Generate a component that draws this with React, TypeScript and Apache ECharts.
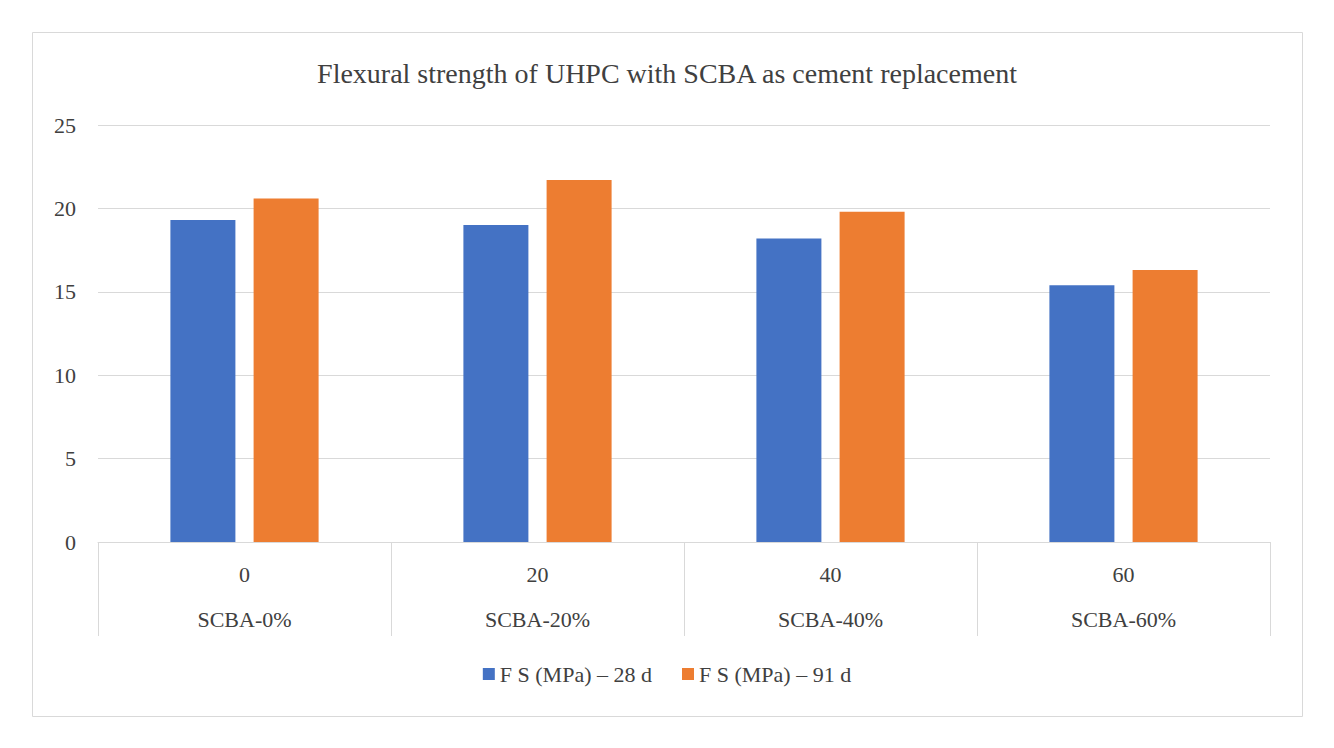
import React, { useEffect, useRef } from "react";
import * as echarts from "echarts";

const levels = ["0", "20", "40", "60"];
const groups = ["SCBA-0%", "SCBA-20%", "SCBA-40%", "SCBA-60%"];
const fs28 = [19.3, 19.0, 18.2, 15.4];
const fs91 = [20.6, 21.7, 19.8, 16.3];
const seriesNames = ["F S (MPa) – 28 d", "F S (MPa) – 91 d"];

const font = "Liberation Serif, Times New Roman, serif";

const App: React.FC = () => {
  const chartRef = useRef<HTMLDivElement | null>(null);

  useEffect(() => {
    document.body.style.margin = "0";
    if (!chartRef.current) return;
    const chart = echarts.init(chartRef.current, undefined, { renderer: "svg" });
    chart.setOption({
      animation: false,
      backgroundColor: "#fff",
      textStyle: { fontFamily: font },
      graphic: [
        {
          type: "rect",
          shape: { x: 32.5, y: 32.5, width: 1270, height: 684 },
          style: { fill: "none", stroke: "#d9d9d9", lineWidth: 1 },
        },
      ],
      title: {
        text: "Flexural strength of UHPC with SCBA as cement replacement",
        left: "center",
        top: 54,
        textStyle: { fontFamily: font, fontSize: 28, fontWeight: "normal", color: "#404040" },
      },
      legend: {
        bottom: 58,
        left: "center",
        itemWidth: 12,
        itemHeight: 12,
        itemGap: 30,
        icon: "rect",
        textStyle: { fontFamily: font, fontSize: 22, color: "#404040" },
        data: seriesNames,
      },
      grid: { left: 98, right: 64, top: 125, bottom: 206 },
      xAxis: {
        type: "category",
        data: levels.map((l, i) => l + "\n" + groups[i]),
        axisLine: { lineStyle: { color: "#d9d9d9" } },
        axisTick: { show: true, length: 94, lineStyle: { color: "#d9d9d9" } },
        axisLabel: { fontFamily: font, fontSize: 22, color: "#404040", lineHeight: 45, margin: 10 },
      },
      yAxis: {
        type: "value",
        min: 0,
        max: 25,
        interval: 5,
        axisLine: { show: false },
        axisTick: { show: false },
        splitLine: { lineStyle: { color: "#d9d9d9" } },
        axisLabel: { fontFamily: font, fontSize: 22, color: "#404040", margin: 22 },
      },
      series: [
        { name: seriesNames[0], type: "bar", data: fs28, barWidth: 65, barGap: "28%", itemStyle: { color: "#4472C4" } },
        { name: seriesNames[1], type: "bar", data: fs91, barWidth: 65, itemStyle: { color: "#ED7D31" } },
      ],
    });
    return () => chart.dispose();
  }, []);

  return <div ref={chartRef} style={{ width: 1334, height: 748 }} />;
};

export default App;
